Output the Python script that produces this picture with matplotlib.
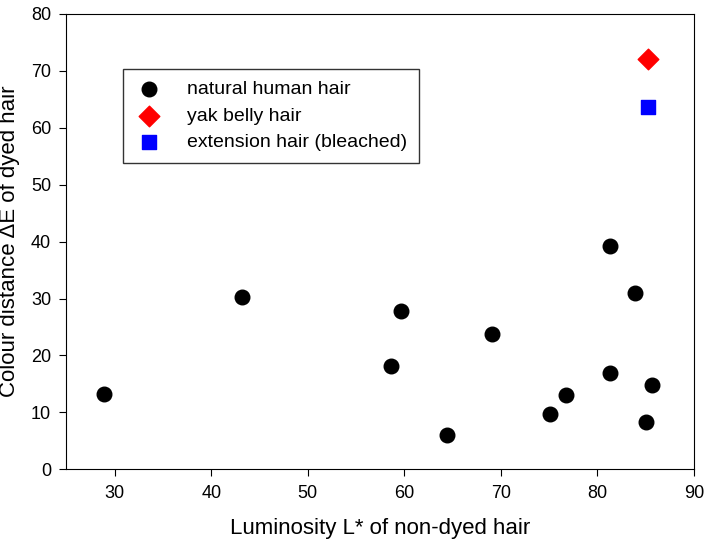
import matplotlib
matplotlib.use("Agg")
import matplotlib.pyplot as plt

plt.rcParams["font.family"] = "Liberation Sans"

# natural human hair
nat_L = [28.9, 43.2, 58.6, 59.7, 64.4, 69.1, 75.1, 76.7, 81.3, 81.3, 83.9, 85.0, 85.7]
nat_dE = [13.2, 30.2, 18.1, 27.8, 6.1, 23.8, 9.7, 13.0, 39.3, 17.0, 31.0, 8.4, 14.8]
yak_L = [85.2]
yak_dE = [72.1]
ext_L = [85.2]
ext_dE = [63.6]

fig, ax = plt.subplots(figsize=(7.14, 5.49), dpi=100)
ax.scatter(nat_L, nat_dE, s=110, c="black", marker="o", label="natural human hair")
ax.scatter(yak_L, yak_dE, s=110, c="red", marker="D", label="yak belly hair")
ax.scatter(ext_L, ext_dE, s=90, c="blue", marker="s", label="extension hair (bleached)")

ax.set_xlim(25, 90)
ax.set_ylim(0, 80)
ax.set_xticks(range(30, 91, 10))
ax.set_yticks(range(0, 81, 10))
ax.tick_params(labelsize=13, direction="out", length=5, pad=6)
ax.set_xlabel("Luminosity L* of non-dyed hair", fontsize=16, labelpad=12)
ax.set_ylabel("Colour distance ΔE of dyed hair", fontsize=16, labelpad=8)
ax.legend(loc="upper left", bbox_to_anchor=(0.075, 0.9), fontsize=14,
          fancybox=False, edgecolor="black", handletextpad=1.2, labelspacing=0.45,
          borderpad=0.6, handlelength=1.5)
fig.subplots_adjust(left=0.093, right=0.972, top=0.975, bottom=0.145)
fig.savefig("out.png")
